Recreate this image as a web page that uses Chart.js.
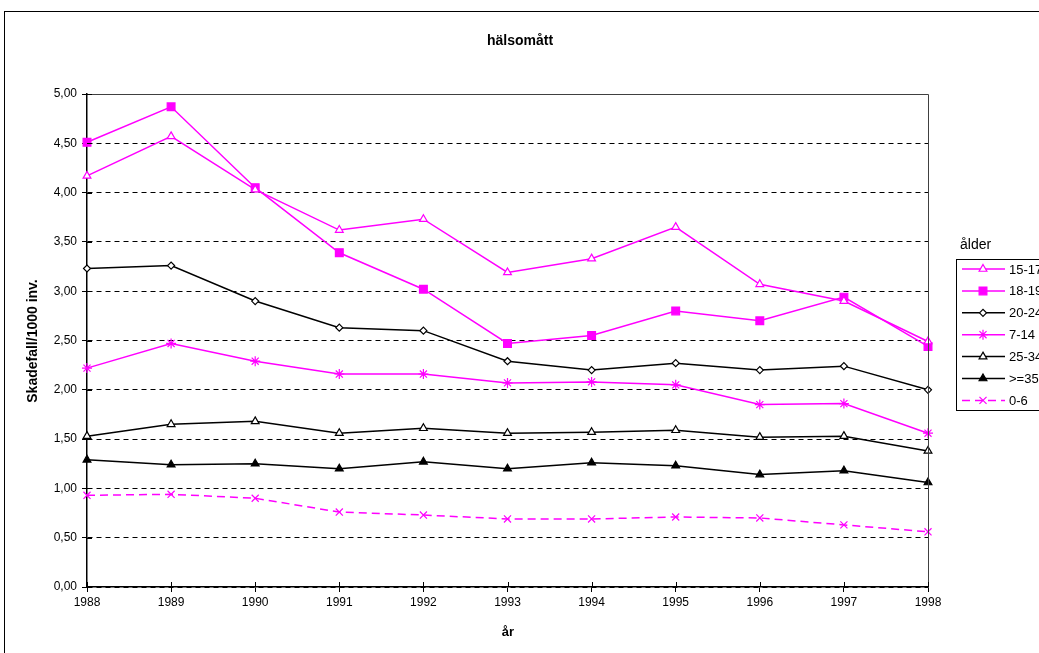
<!DOCTYPE html>
<html>
<head>
<meta charset="utf-8">
<script src="https://cdn.jsdelivr.net/npm/chart.js@4/dist/chart.umd.min.js"></script>
<style>
  html, body { margin: 0; padding: 0; background: #fff; }
  #wrap { width: 1039px; height: 653px; }
</style>
</head>
<body>
<div id="wrap"><canvas id="chart" width="1039" height="653"></canvas></div>
<script>
// years on the x axis
var years = ['1988','1989','1990','1991','1992','1993','1994','1995','1996','1997','1998'];

// injury cases per 1000 inhabitants
var age15to17 = [4.17, 4.57, 4.03, 3.62, 3.73, 3.19, 3.33, 3.65, 3.07, 2.90, 2.49];
var age18to19 = [4.51, 4.87, 4.05, 3.39, 3.02, 2.47, 2.55, 2.80, 2.70, 2.94, 2.44];
var age20to24 = [3.23, 3.26, 2.90, 2.63, 2.60, 2.29, 2.20, 2.27, 2.20, 2.24, 2.00];
var age7to14  = [2.22, 2.47, 2.29, 2.16, 2.16, 2.07, 2.08, 2.05, 1.85, 1.86, 1.56];
var age25to34 = [1.53, 1.65, 1.68, 1.56, 1.61, 1.56, 1.57, 1.59, 1.52, 1.53, 1.38];
var age35plus = [1.29, 1.24, 1.25, 1.20, 1.27, 1.20, 1.26, 1.23, 1.14, 1.18, 1.06];
var age0to6   = [0.93, 0.94, 0.90, 0.76, 0.73, 0.69, 0.69, 0.71, 0.70, 0.63, 0.56];

var seriesLabels = ['15-17', '18-19', '20-24', '7-14', '25-34', '>=35', '0-6'];

var MAG = '#ff00ff';
var FONT = '"Liberation Sans", Arial, sans-serif';

function ds(label, data, color, style, radius, fill, dash) {
    return {
        label: label,
        data: data,
        borderColor: color,
        borderWidth: 1.5,
        borderDash: dash || [],
        pointStyle: style,
        pointRadius: radius,
        pointHoverRadius: radius,
        pointBorderColor: color,
        pointBackgroundColor: fill,
        pointBorderWidth: 1.2,
        tension: 0,
        fill: false
    };
}

var datasets = [
    ds(seriesLabels[0], age15to17, MAG, 'triangle', 4.5, '#fff'),
    ds(seriesLabels[1], age18to19, MAG, 'rect', 5.5, MAG),
    ds(seriesLabels[2], age20to24, '#000', 'rectRot', 3.5, '#fff'),
    ds(seriesLabels[3], age7to14, MAG, 'star', 5, MAG),
    ds(seriesLabels[4], age25to34, '#000', 'triangle', 4.5, '#fff'),
    ds(seriesLabels[5], age35plus, '#000', 'triangle', 4.5, '#000'),
    ds(seriesLabels[6], age0to6, MAG, 'crossRot', 5, MAG, [8, 5])
];

// frame, titles, inner tick marks and the legend
var decor = {
    id: 'decor',
    beforeDraw: function(chart) {
        var c = chart.ctx;
        c.save();
        c.fillStyle = '#fff';
        c.fillRect(0, 0, chart.width, chart.height);
        c.strokeStyle = '#000';
        c.lineWidth = 1;
        c.strokeRect(4.5, 11.5, chart.width + 20, chart.height + 20);
        c.restore();
    },
    afterDatasetsDraw: function(chart) {
        var c = chart.ctx, a = chart.chartArea;
        var xs = chart.scales.x, ys = chart.scales.y;
        c.save();
        // plot frame
        c.strokeStyle = '#404040';
        c.lineWidth = 1;
        c.beginPath();
        c.moveTo(Math.round(a.left) + 0.5, Math.round(a.top) + 0.5);
        c.lineTo(Math.round(a.right) + 0.5, Math.round(a.top) + 0.5);
        c.lineTo(Math.round(a.right) + 0.5, Math.round(a.bottom) + 0.5);
        c.stroke();
        // inner halves of the tick marks
        c.strokeStyle = '#000';
        c.beginPath();
        ys.ticks.forEach(function(t, i) {
            var y = Math.round(ys.getPixelForTick(i)) + 0.5;
            c.moveTo(a.left, y); c.lineTo(a.left + 5, y);
        });
        xs.ticks.forEach(function(t, i) {
            var x = Math.round(xs.getPixelForTick(i)) + 0.5;
            c.moveTo(x, a.bottom); c.lineTo(x, a.bottom - 5);
        });
        c.stroke();

        // titles
        c.fillStyle = '#000';
        c.textAlign = 'center';
        c.textBaseline = 'middle';
        c.font = 'bold 14px ' + FONT;
        c.fillText('hälsomått', 520, 41);
        c.font = 'bold 13px ' + FONT;
        c.fillText('år', 508, 632);
        c.save();
        c.translate(33, 341);
        c.rotate(-Math.PI / 2);
        c.font = 'bold 14px ' + FONT;
        c.fillText('Skadefall/1000 inv.', 0, 0);
        c.restore();

        // legend
        c.font = '14px ' + FONT;
        c.textAlign = 'left';
        c.fillText('ålder', 960, 245);
        c.lineWidth = 1;
        c.strokeStyle = '#000';
        c.strokeRect(956.5, 259.5, 120, 151);
        c.font = '13px ' + FONT;
        chart.data.datasets.forEach(function(d, i) {
            var y = 269 + i * 21.9;
            c.save();
            c.strokeStyle = d.borderColor;
            c.lineWidth = d.borderWidth;
            c.setLineDash(d.borderDash);
            c.beginPath();
            c.moveTo(962, y); c.lineTo(1005, y);
            c.stroke();
            c.setLineDash([]);
            c.strokeStyle = d.pointBorderColor;
            c.fillStyle = d.pointBackgroundColor;
            c.lineWidth = d.pointBorderWidth;
            Chart.helpers.drawPoint(c, { pointStyle: d.pointStyle, radius: d.pointRadius, borderWidth: d.pointBorderWidth, rotation: 0 }, 983, y);
            c.restore();
            c.fillStyle = '#000';
            c.textBaseline = 'middle';
            c.fillText(d.label, 1009, y + 1);
        });
        c.restore();
    }
};

new Chart(document.getElementById('chart').getContext('2d'), {
    type: 'line',
    data: { labels: years, datasets: datasets },
    plugins: [decor],
    options: {
        responsive: false,
        animation: false,
        events: [],
        layout: { padding: { left: 0, top: 94, right: 111, bottom: 0 } },
        plugins: { legend: { display: false }, title: { display: false }, tooltip: { enabled: false } },
        scales: {
            x: {
                type: 'category',
                offset: false,
                afterFit: function(s) { s.height = 66; },
                grid: { drawOnChartArea: false, color: '#000', tickLength: 5, tickBorderDash: [] },
                border: { color: '#000', width: 1.5 },
                ticks: { color: '#000', font: { family: FONT, size: 12 }, padding: 3, maxRotation: 0, autoSkip: false }
            },
            y: {
                min: 0,
                max: 5,
                afterFit: function(s) { s.width = 87; },
                grid: { color: '#000', lineWidth: 1, tickLength: 5, tickBorderDash: [] },
                border: { color: '#000', width: 1.5, dash: [5, 4] },
                ticks: {
                    stepSize: 0.5,
                    color: '#000',
                    padding: 5,
                    font: { family: FONT, size: 12 },
                    callback: function(v) { return v.toFixed(2).replace('.', ','); }
                }
            }
        }
    }
});
</script>
</body>
</html>
